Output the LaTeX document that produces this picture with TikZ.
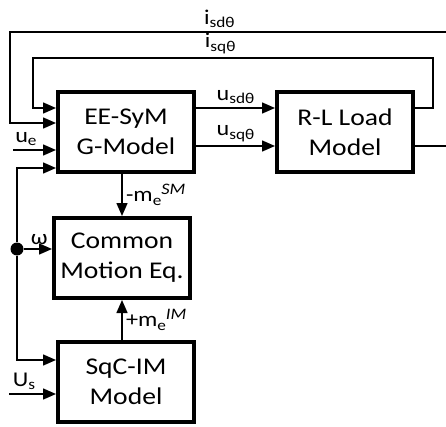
\documentclass[tikz,border=0pt]{standalone}
\usepackage{fontspec}
\setmainfont{Carlito}[FakeStretch=1.15]
\usepackage{tikz}
\usetikzlibrary{arrows.meta,positioning,calc}
\newcommand{\lsub}[1]{\raisebox{-3.5pt}{\fontsize{15}{15}\selectfont #1}}
\newcommand{\lsup}[1]{\raisebox{7pt}{\fontsize{16}{16}\selectfont\itshape #1}}

\begin{document}
\begin{tikzpicture}[
    x=1pt, y=1pt,
    node distance=42pt and 79pt,
    font=\fontsize{21}{25}\selectfont,
    block/.style={draw, rectangle, line width=4pt, minimum width=136pt, minimum height=80pt, align=center, inner sep=0pt, font=\fontsize{24}{30}\selectfont},
    arrow/.style={-{Triangle[length=13pt,width=11pt]}, line width=1.5pt},
    wire/.style={line width=1.5pt},
    junction/.style={circle, fill, inner sep=0pt, minimum size=13pt}
]
    \useasboundingbox (0,0) rectangle (446,426);

    \node[block] (eesym) at (126,294) {EE-SyM\\G-Model};
    \node[block, right=of eesym] (rlload) {R-L Load\\Model};
    \node[block, below=of eesym, xshift=-4pt] (motion) {Common\\Motion Eq.};
    \node[block, below=40pt of motion, xshift=4pt] (sqcim) {SqC-IM\\Model};

    % inputs on the left of the generator model
    \coordinate (eeisq) at ([yshift=24pt]eesym.west);
    \coordinate (eeisd) at ([yshift=9pt]eesym.west);
    \coordinate (eeue) at ([yshift=-18pt]eesym.west);
    \coordinate (eeomega) at ([yshift=-36pt]eesym.west);
    \coordinate (isdend) at (446,394);
    \coordinate (rlout) at (446,280);

    \node[junction] (wdot) at ([xshift=-35pt,yshift=9pt]motion.west) {};

    \draw[arrow] ([yshift=24pt]eesym.east) -- node[above] {u\lsub{sdθ}} ([yshift=24pt]rlload.west);
    \draw[arrow] ([yshift=-14pt]eesym.east) -- node[above] {u\lsub{sqθ}} ([yshift=-14pt]rlload.west);
    \draw[wire] ([yshift=-14pt]rlload.east) -- (rlout);

    \draw[arrow] (isdend) -| node[above, pos=0.26] {i\lsub{sdθ}} ([xshift=-46pt]eeisd) -- (eeisd);
    \draw[arrow] ([yshift=24pt]rlload.east) -| ++(18,50) -| node[above, pos=0.266] {i\lsub{sqθ}} ([xshift=-23pt]eeisq) -- (eeisq);
    \draw[arrow] ([xshift=-43pt]eeue) -- node[above, pos=0.3] {u\lsub{e}} (eeue);

    \draw[arrow] (eesym.south -| motion.north) -- node[right] {-m\lsub{e}\lsup{SM}} (motion.north);
    \draw[arrow] (sqcim.north -| motion.south) -- node[right] {+m\lsub{e}\lsup{IM}} (motion.south);

    \draw[arrow] (wdot) -- node[above, pos=0.55] {ω} ([yshift=9pt]motion.west);
    \draw[arrow] (wdot) |- (eeomega);
    \draw[arrow] (wdot) |- ([yshift=22pt]sqcim.west);
    \draw[arrow] ([xshift=-47pt,yshift=-12pt]sqcim.west) -- node[above, pos=0.32] {U\lsub{s}} ([yshift=-12pt]sqcim.west);
\end{tikzpicture}
\end{document}
